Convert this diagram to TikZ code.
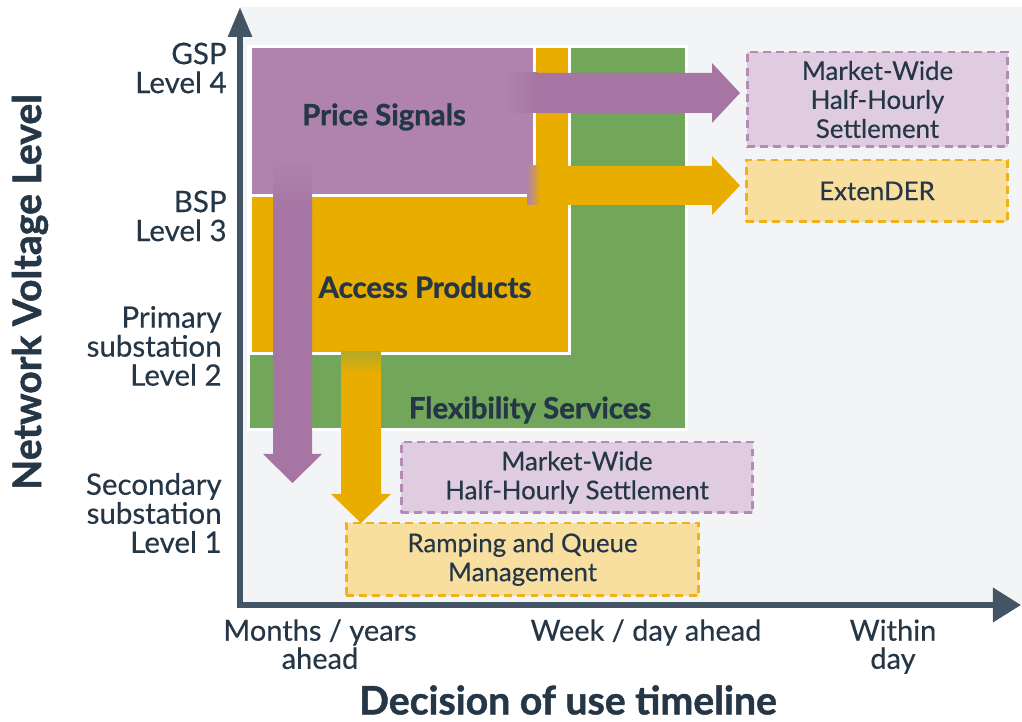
\documentclass[tikz,border=0pt]{standalone}
\usepackage{fontspec}
\setmainfont{Lato}[UprightFeatures={FakeBold=0.4}, BoldFeatures={FakeBold=1.2}]
\usetikzlibrary{arrows.meta,positioning}

\definecolor{bggray}{HTML}{F3F4F6}
\definecolor{axisgray}{HTML}{435564}
\definecolor{ink}{HTML}{253746}
\definecolor{flexgreen}{HTML}{72A65A}
\definecolor{accorange}{HTML}{E9AD00}
\definecolor{pricepurple}{HTML}{AF83AE}
\definecolor{arrowpurple}{HTML}{A675A3}
\definecolor{mwfill}{HTML}{DFCCE0}
\definecolor{mwline}{HTML}{B58BB5}
\definecolor{exfill}{HTML}{F8DFA0}
\definecolor{exline}{HTML}{EDB21C}

\tikzset{
  ticklbl/.style={text=ink, align=right, anchor=east, inner sep=0pt,
    font=\fontsize{16.8}{16.5}\selectfont},
  timelbl/.style={text=ink, align=center, anchor=north, inner sep=0pt,
    font=\fontsize{16.5}{16}\selectfont},
  arealbl/.style={text=ink, font=\bfseries\fontsize{16.7}{19}\selectfont},
  axistitle/.style={text=ink, inner sep=0pt, font=\bfseries\fontsize{22.3}{24}\selectfont},
  outcome/.style={draw, dashed, dash pattern=on 4.5pt off 3pt, line width=1.7pt,
    text=ink, align=center, inner sep=0pt, font=\fontsize{14.7}{16.5}\selectfont},
  mwbox/.style={outcome, fill=mwfill, draw=mwline},
  exbox/.style={outcome, fill=exfill, draw=exline},
  area/.style={draw=white, line width=1.7pt}
}

\begin{document}
\begin{tikzpicture}[x=0.02cm, y=-0.02cm]

  % picture size, in pixels of the reference
  \useasboundingbox (0,0) rectangle (1022,722);

  % plot panel
  \fill[bggray] (240,7) rectangle (1022,605);

  % the three areas
  \filldraw[area, fill=flexgreen] (248.5,46.5) rectangle (686.5,429.5);
  \filldraw[area, fill=accorange] (250.5,46.5) rectangle (569.5,353.5);
  \filldraw[area, fill=pricepurple] (250.5,46.5) rectangle (534.5,195.5);

  \node[arealbl] (ps) at (384,117) {Price Signals};
  \node[arealbl] (ap) at (425,287) {Access Products};
  \node[arealbl] (fs) at (530,410) {Flexibility Services};

  % outcome boxes
  \node[mwbox, minimum width=5.22cm, minimum height=1.9cm] (mwtop) at (877.5,99.5)
    {Market-Wide\\Half-Hourly\\Settlement};
  \node[exbox, minimum width=5.24cm, minimum height=1.24cm] (extender) at (877,191)
    {ExtenDER};
  \node[mwbox, minimum width=7.04cm, minimum height=1.42cm] (mwlow) at (577,477.5)
    {Market-Wide\\Half-Hourly Settlement};
  \node[exbox, minimum width=7.06cm, minimum height=1.46cm] (ramp) at (522.5,559.5)
    {Ramping and Queue\\Management};

  % purple arrow to the right
  \shade[left color=pricepurple, right color=arrowpurple] (505,73) rectangle (537,113);
  \fill[arrowpurple] (536,73) -- (712,73) -- (712,63) -- (740,93)
    -- (712,123) -- (712,113) -- (536,113) -- cycle;

  % orange arrow to the right
  \shade[left color=pricepurple, right color=accorange] (527,166) rectangle (541,205);
  \fill[accorange] (540,166) -- (712,166) -- (712,156) -- (740,185.5)
    -- (712,215) -- (712,205) -- (540,205) -- cycle;

  % purple arrow down
  \shade[top color=pricepurple, bottom color=arrowpurple] (273,160) rectangle (312,210);
  \fill[arrowpurple] (273,209) -- (273,454) -- (263,454) -- (292.5,483)
    -- (322,454) -- (312,454) -- (312,209) -- cycle;

  % orange arrow down
  \shade[top color=flexgreen!45!accorange, bottom color=accorange] (341,352) rectangle (381,374);
  \fill[accorange] (341,373) -- (341,494) -- (331,494) -- (361,523)
    -- (391,494) -- (381,494) -- (381,373) -- cycle;

  % axes
  \draw[axisgray, line width=3.4pt, -{Triangle[length=17pt, width=13pt]}]
    (240,608) -- (240,7);
  \draw[axisgray, line width=3.4pt, -{Triangle[length=16pt, width=19pt]}]
    (238,605) -- (1021,605);

  % voltage levels
  \node[ticklbl] (gsp) at (227,68) {GSP\\Level 4};
  \node[ticklbl] (bsp) at (227,216) {BSP\\Level 3};
  \node[ticklbl] (prim) at (222,346) {Primary\\substation\\Level 2};
  \node[ticklbl] (sec) at (222,513) {Secondary\\substation\\Level 1};

  % timeline
  \node[timelbl] (months) at (320,619) {Months / years\\ahead};
  \node[timelbl] (week) at (646,619) {Week / day ahead};
  \node[timelbl] (within) at (893,619) {Within\\day};

  % axis titles
  \node[axistitle, rotate=90] (ytitle) at (30,292) {Network Voltage Level};
  \node[axistitle] (xtitle) at (568,700) {Decision of use timeline};

\end{tikzpicture}
\end{document}
